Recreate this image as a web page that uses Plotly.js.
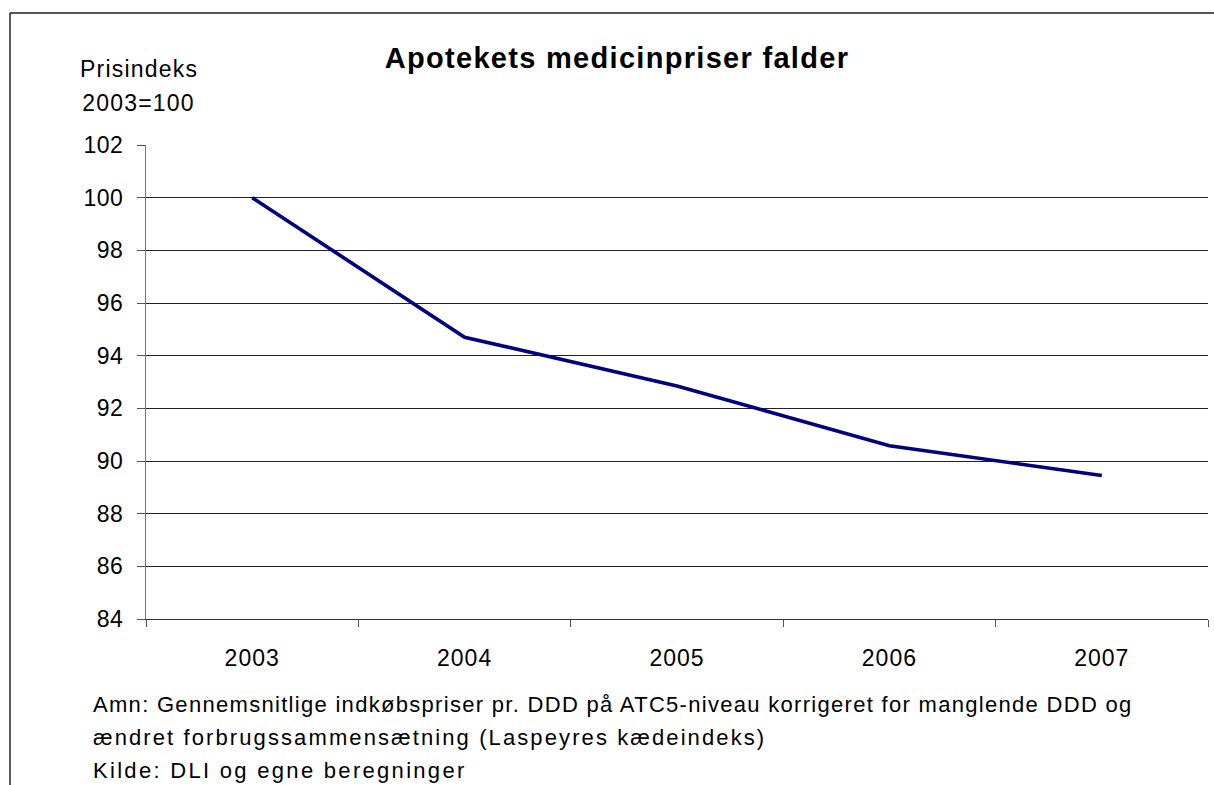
<!DOCTYPE html>
<html>
<head>
<meta charset="utf-8">
<script src="https://cdn.plot.ly/plotly-3.0.1.min.js"></script>
<style>
html,body{margin:0;padding:0;background:#fff;}
#chart{width:1214px;height:785px;}
#chart .gtitle{letter-spacing:1.3px;}
#chart .xtick text{letter-spacing:1px;}
#chart .ytick text{letter-spacing:0.5px;}
#chart .annotation-text{letter-spacing:1.2px;}
</style>
</head>
<body>
<div id="chart"></div>
<script>
var years = ["2003", "2004", "2005", "2006", "2007"];
var priceIndex = [100, 94.7, 92.85, 90.58, 89.45];
var yTicks = [84, 86, 88, 90, 92, 94, 96, 98, 100, 102];
var notes = [
  "Amn: Gennemsnitlige indkøbspriser pr. DDD på ATC5-niveau korrigeret for manglende DDD og",
  "ændret forbrugssammensætning (Laspeyres kædeindeks)",
  "Kilde: DLI og egne beregninger"
];

var W = 1214, H = 785;
var L = 146, R = 1208, T = 145, B = 619;
function px(x){ return (x - L) / (R - L); }
function py(y){ return (B - y) / (B - T); }

var font = "Arial, 'Liberation Sans', sans-serif";

var trace = {
  x: years,
  y: priceIndex,
  type: "scatter",
  mode: "lines",
  line: {color: "#000080", width: 3.6},
  hoverinfo: "x+y"
};

function note(text, y, spacing){
  return {text: '<span style="letter-spacing:' + spacing + 'px">' + text + '</span>',
          xref: "paper", yref: "paper", x: px(91), y: py(y),
          xanchor: "left", yanchor: "middle", align: "left", showarrow: false,
          font: {family: font, size: 22, color: "#000"}};
}

var layout = {
  width: W, height: H,
  margin: {l: L, r: W - R, t: T, b: H - B},
  paper_bgcolor: "#fff",
  plot_bgcolor: "#fff",
  showlegend: false,
  font: {family: font, color: "#000", size: 22},
  title: {
    text: "<b>Apotekets medicinpriser falder</b>",
    font: {family: font, size: 29, color: "#000"},
    x: 617 / W, xanchor: "center",
    y: 1 - 58 / H, yanchor: "middle"
  },
  xaxis: {
    type: "category",
    range: [-0.5, 4.5],
    tickson: "boundaries",
    ticks: "outside",
    ticklen: 7,
    tickcolor: "#555",
    showline: true,
    linecolor: "#333",
    linewidth: 1,
    showgrid: false,
    zeroline: false,
    ticklabelstandoff: 18,
    tickfont: {family: font, size: 23, color: "#000"},
    fixedrange: true
  },
  yaxis: {
    range: [84, 102],
    tickvals: yTicks,
    ticktext: yTicks.map(String),
    ticks: "outside",
    ticklen: 8,
    tickcolor: "#555",
    showline: true,
    linecolor: "#777",
    linewidth: 1,
    showgrid: true,
    gridcolor: "#222",
    gridwidth: 1,
    zeroline: false,
    ticklabelstandoff: 9,
    tickfont: {family: font, size: 23, color: "#000"},
    fixedrange: true
  },
  annotations: [
    {text: "Prisindeks", xref: "paper", yref: "paper", x: px(139), y: py(69), xanchor: "center", yanchor: "middle", showarrow: false, font: {family: font, size: 23, color: "#000"}},
    {text: "2003=100", xref: "paper", yref: "paper", x: px(138), y: py(103), xanchor: "center", yanchor: "middle", showarrow: false, font: {family: font, size: 23, color: "#000"}},
    note(notes[0], 704, 1.3),
    note(notes[1], 737, 2.1),
    note(notes[2], 770, 2.3)
  ],
  shapes: [
    {type: "line", xref: "paper", yref: "paper", x0: px(10), x1: px(10), y0: py(13), y1: py(790), line: {color: "#222", width: 1.5}},
    {type: "line", xref: "paper", yref: "paper", x0: px(10), x1: px(1220), y0: py(13), y1: py(13), line: {color: "#222", width: 1.5}}
  ]
};

Plotly.newPlot("chart", [trace], layout, {displayModeBar: false, staticPlot: true});
</script>
</body>
</html>
